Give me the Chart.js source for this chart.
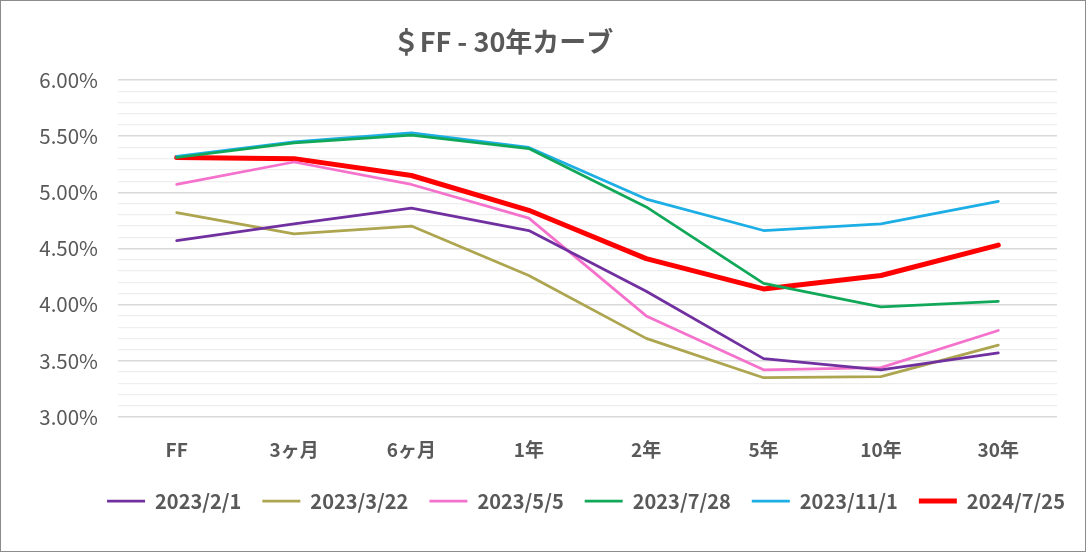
<!DOCTYPE html>
<html>
<head>
<meta charset="utf-8">
<script src="https://cdn.jsdelivr.net/npm/chart.js@4.4.1/dist/chart.umd.min.js"></script>
<style>
html, body { margin: 0; padding: 0; background: #fff; }
#wrap { position: relative; width: 1086px; height: 552px; box-sizing: border-box; border: 1px solid #8c8c8c; background: #fff; }
canvas { display: block; }
</style>
</head>
<body>
<div id="wrap"><canvas id="curve"></canvas></div>
<script>
// data
const chartTitle = '＄FF - 30年カーブ';
const tenors = ['FF', '3ヶ月', '6ヶ月', '1年', '2年', '5年', '10年', '30年'];
const seriesNames = ['2023/2/1', '2023/3/22', '2023/5/5', '2023/7/28', '2023/11/1', '2024/7/25'];
const rates20230201 = [4.57, 4.72, 4.86, 4.66, 4.12, 3.52, 3.42, 3.57];
const rates20230322 = [4.82, 4.63, 4.70, 4.26, 3.70, 3.35, 3.36, 3.64];
const rates20230505 = [5.07, 5.27, 5.07, 4.77, 3.90, 3.42, 3.44, 3.77];
const rates20230728 = [5.31, 5.44, 5.51, 5.39, 4.87, 4.19, 3.98, 4.03];
const rates20231101 = [5.32, 5.45, 5.53, 5.40, 4.94, 4.66, 4.72, 4.92];
const rates20240725 = [5.31, 5.30, 5.15, 4.84, 4.41, 4.14, 4.26, 4.53];
const yMajorTicks = [3.0, 3.5, 4.0, 4.5, 5.0, 5.5, 6.0];

const seriesValues = [rates20230201, rates20230322, rates20230505, rates20230728, rates20231101, rates20240725];
const seriesColors = ['#7030A0', '#ADA54F', '#F472CC', '#12A85A', '#1CAEE4', '#FF0000'];
const seriesWidths = [2.75, 2.75, 2.75, 2.75, 2.75, 5];

const textGray = '#595959';
const jpFont = '"Noto Sans CJK JP", "Noto Sans", sans-serif';

function isMajor(v) {
    return yMajorTicks.some(t => Math.abs(t - v) < 1e-6);
}

// title drawn by hand so it can sit a bit left of centre like the original
const titlePlugin = {
    id: 'leftTitle',
    afterDraw(chart) {
        const ctx = chart.ctx;
        ctx.save();
        ctx.font = 'bold 27px ' + jpFont;
        ctx.fillStyle = textGray;
        ctx.textAlign = 'center';
        ctx.textBaseline = 'middle';
        ctx.fillText(chartTitle, 502, 41);
        ctx.restore();
    }
};

// the original legend row sits right of centre
const legendShift = {
    id: 'legendShift',
    afterLayout(chart) {
        chart.legend.left += 47;
        chart.legend.right += 47;
    }
};

const whiteBg = {
    id: 'whiteBg',
    beforeDraw(chart) {
        const ctx = chart.ctx;
        ctx.save();
        ctx.fillStyle = '#fff';
        ctx.fillRect(0, 0, chart.width, chart.height);
        ctx.restore();
    }
};

new Chart(document.getElementById('curve'), {
    type: 'line',
    data: {
        labels: tenors,
        datasets: seriesNames.map((name, i) => ({
            label: name,
            data: seriesValues[i],
            borderColor: seriesColors[i],
            backgroundColor: seriesColors[i],
            borderWidth: seriesWidths[i],
            pointRadius: 0,
            tension: 0,
            borderCapStyle: 'round',
            borderJoinStyle: 'round'
        }))
    },
    options: {
        responsive: true,
        maintainAspectRatio: false,
        animation: false,
        layout: { padding: { left: 20, right: 28, top: 79, bottom: 30 } },
        plugins: {
            title: { display: false },
            tooltip: { enabled: false },
            legend: {
                position: 'bottom',
                labels: {
                    usePointStyle: true,
                    pointStyle: 'line',
                    pointStyleWidth: 38,
                    boxHeight: 4,
                    padding: 21,
                    color: textGray,
                    font: { family: jpFont, size: 20, weight: 'bold' }
                }
            }
        },
        scales: {
            x: {
                offset: true,
                grid: { display: false, drawTicks: false },
                border: { display: false },
                ticks: {
                    padding: 21,
                    color: textGray,
                    font: { family: jpFont, size: 19, weight: 'bold' }
                },
                afterFit(scale) { scale.height = 53; }
            },
            y: {
                min: 3,
                max: 6,
                border: { display: false },
                grid: {
                    drawTicks: false,
                    color: c => isMajor(c.tick.value) ? '#d9d9d9' : '#eeeeee',
                    lineWidth: c => isMajor(c.tick.value) ? 1.6 : 1.2
                },
                ticks: {
                    stepSize: 0.1,
                    autoSkip: false,
                    padding: 20,
                    color: textGray,
                    font: { family: jpFont, size: 20.5 },
                    callback: v => isMajor(v) ? v.toFixed(2) + '%' : ''
                },
                afterFit(scale) { scale.width = 97; }
            }
        }
    },
    plugins: [whiteBg, titlePlugin, legendShift]
});
</script>
</body>
</html>
